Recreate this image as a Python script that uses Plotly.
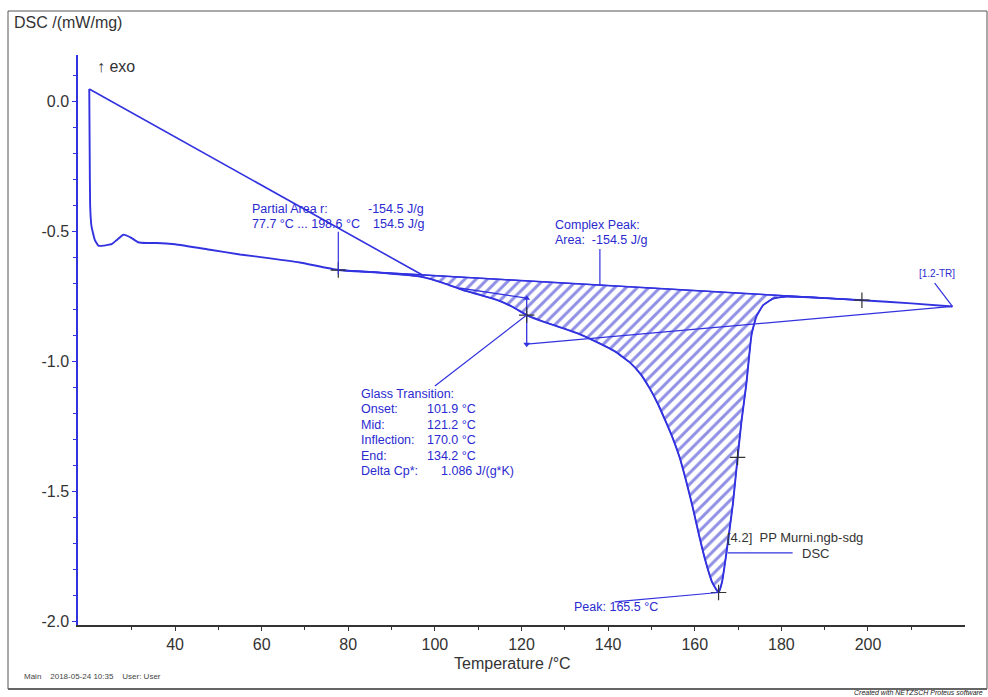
import plotly.graph_objects as go

# ---------------- data ----------------
temperature = [20.2, 20.3, 20.4, 20.7, 21.5, 22.3, 23.5, 24.8, 25.4, 26.5, 28.1, 29.8,
               31.5, 33.5, 35.8, 40.0, 48.1, 55.0, 62.0, 68.8, 77.7, 87.0, 97.2, 102.0,
               106.5, 110.5, 114.3, 118.0, 121.2, 125.0, 129.5, 133.5, 137.4, 141.5,
               145.0, 147.5, 149.6, 151.5, 153.5, 155.0, 156.5, 158.0, 159.5, 161.0,
               162.5, 164.0, 165.5, 166.3, 167.3, 168.8, 169.9, 170.8, 171.9, 173.1,
               174.2, 175.8, 178.1, 181.2, 190.0, 198.6, 210.0, 219.5]
dsc = [0.046, -0.20, -0.40, -0.48, -0.535, -0.556, -0.556, -0.552, -0.550, -0.535,
       -0.514, -0.525, -0.543, -0.546, -0.546, -0.551, -0.572, -0.590, -0.605, -0.621,
       -0.650, -0.660, -0.677, -0.700, -0.727, -0.746, -0.765, -0.792, -0.823, -0.848,
       -0.873, -0.897, -0.927, -0.962, -1.005, -1.050, -1.105, -1.165, -1.240, -1.300,
       -1.370, -1.460, -1.560, -1.670, -1.770, -1.850, -1.890, -1.850, -1.740, -1.550,
       -1.370, -1.230, -1.090, -0.900, -0.830, -0.785, -0.760, -0.752, -0.758, -0.766,
       -0.778, -0.790]

# straight jump segment of the recorded signal
jump_T = [20.2, 97.0]
jump_dsc = [0.046, -0.668]

# peak integration baseline (partial area limits)
baseline_T = [77.7, 198.6]
baseline_dsc = [-0.650, -0.766]

# glass transition construction
gt_tangent_T = [105.6, 121.2]
gt_tangent_dsc = [-0.719, -0.758]
gt_step_T = [121.2, 121.2]
gt_step_dsc = [-0.758, -0.935]
gt_ext_T = [121.2, 219.5]
gt_ext_dsc = [-0.935, -0.790]

# evaluation cross markers
marker_T = [77.7, 121.2, 165.5, 169.9, 198.6]
marker_dsc = [-0.650, -0.823, -1.890, -1.370, -0.766]

x_ticks = [40, 60, 80, 100, 120, 140, 160, 180, 200]
x_minor = [30, 50, 70, 90, 110, 130, 150, 170, 190, 210]
y_ticks = [0.0, -0.5, -1.0, -1.5, -2.0]
y_ticklabels = ["0.0", "-0.5", "-1.0", "-1.5", "-2.0"]

# ---------------- style ----------------
BLUE = "#3232e0"
TXT_BLUE = "#2a2ad0"
DARK = "#333333"
FONT = "Liberation Sans, Arial, sans-serif"

W, H = 988, 697
L, R, T, B = 78, 23, 55, 72
PW, PH = W - L - R, H - T - B


def px(x):
    return (x - L) / PW


def py(y):
    return (H - B - y) / PH


fig = go.Figure()

# hatched area between curve and baseline
lo, hi = baseline_T
poly_T = [t for t in temperature if lo <= t <= hi]
poly_d = [d for t, d in zip(temperature, dsc) if lo <= t <= hi]
poly_T += baseline_T[::-1]
poly_d += baseline_dsc[::-1]
fig.add_trace(go.Scatter(
    x=poly_T, y=poly_d, mode="lines", fill="toself",
    fillcolor="rgba(0,0,0,0)",
    fillpattern=dict(shape="/", fgcolor="#2020cc", bgcolor="white", size=8, solidity=0.38),
    line=dict(color=BLUE, width=1.2, shape="spline", smoothing=0.4),
    hoverinfo="skip", showlegend=False))

# baseline
fig.add_trace(go.Scatter(x=baseline_T, y=baseline_dsc, mode="lines",
                         line=dict(color=BLUE, width=1.5), showlegend=False))
# glass transition construction
fig.add_trace(go.Scatter(x=gt_tangent_T, y=gt_tangent_dsc, mode="lines",
                         line=dict(color=BLUE, width=1.3), showlegend=False))
fig.add_trace(go.Scatter(x=gt_ext_T, y=gt_ext_dsc, mode="lines",
                         line=dict(color=BLUE, width=1.3), showlegend=False))
fig.add_trace(go.Scatter(x=gt_step_T, y=gt_step_dsc, mode="lines+markers",
                         line=dict(color=BLUE, width=1.3),
                         marker=dict(symbol=["triangle-up", "triangle-down"], size=6, color=BLUE),
                         showlegend=False))

# main DSC curve
fig.add_trace(go.Scatter(x=jump_T, y=jump_dsc, mode="lines",
                         line=dict(color=BLUE, width=1.6), showlegend=False))
fig.add_trace(go.Scatter(x=temperature, y=dsc, mode="lines",
                         line=dict(color=BLUE, width=1.9, shape="spline", smoothing=0.4),
                         showlegend=False))

# cross markers
fig.add_trace(go.Scatter(x=marker_T, y=marker_dsc, mode="markers",
                         marker=dict(symbol="cross-thin", size=11,
                                     line=dict(color=DARK, width=1.2)),
                         showlegend=False))

# leader lines (data coordinates)
leaders = [
    ((77.7, -0.503), (77.7, -0.665)),      # partial area
    ((138.1, -0.569), (138.1, -0.708)),    # complex peak
    ((100.0, -1.096), (121.2, -0.823)),    # glass transition
    ((141.5, -1.926), (165.5, -1.890)),    # peak
    ((167.6, -1.738), (182.6, -1.738)),    # DSC curve label
    ((215.4, -0.700), (219.5, -0.790)),    # [1.2-TR]
]
for (x0, y0), (x1, y1) in leaders:
    fig.add_shape(type="line", xref="x", yref="y", x0=x0, y0=y0, x1=x1, y1=y1,
                  line=dict(color=BLUE, width=1.2))


def text(x, y, s, size=12.5, color=TXT_BLUE, anchor="left", italic=False):
    fig.add_annotation(x=px(x), y=py(y), xref="paper", yref="paper", text=s,
                       showarrow=False, xanchor=anchor, yanchor="middle",
                       font=dict(family=FONT, size=size, color=color,
                                 style="italic" if italic else "normal"))


# annotations
text(250, 209, "Partial Area r:")
text(426, 209, "-154.5 J/g", anchor="right")
text(250, 224, "77.7 °C ... 198.6 °C")
text(426, 224, "154.5 J/g", anchor="right")
text(553, 225, "Complex Peak:")
text(553, 240, "Area:  -154.5 J/g")

gt_labels = ["Glass Transition:", "Onset:", "Mid:", "Inflection:", "End:", "Delta Cp*:"]
gt_y = [394, 409, 425, 440, 456, 471]
for lab, yy in zip(gt_labels, gt_y):
    text(359, yy, lab)
for val, yy in zip(["101.9 °C", "121.2 °C", "170.0 °C", "134.2 °C"], gt_y[1:5]):
    text(425, yy, val)
text(439, gt_y[5], "1.086 J/(g*K)")

text(572, 607, "Peak: 165.5 °C")
text(725, 537, "[4.2]  PP Murni.ngb-sdg", size=13, color=DARK)
text(800, 553, "DSC", size=13, color=DARK)
text(917, 273, "[1.2-TR]", size=10)

text(12, 22, "DSC /(mW/mg)", size=16, color=DARK)
text(95, 67, "↑ exo", size=16, color=DARK)
text(512, 663, "Temperature /°C", size=16, color=DARK, anchor="center")
text(22, 676, "Main    2018-05-24 10:35    User: User", size=8, color="#444444")
text(985, 692, "Created with NETZSCH Proteus software", size=7, color="#222222",
     anchor="right", italic=True)

# outer frame
fig.add_shape(type="rect", xref="paper", yref="paper",
              x0=px(8), x1=px(987), y0=py(689), y1=py(11),
              line=dict(color="#555555", width=1))
fig.add_shape(type="line", xref="paper", yref="paper",
              x0=px(8), x1=px(987), y0=py(689), y1=py(689),
              line=dict(color="#666666", width=2))

fig.update_layout(
    width=W, height=H,
    margin=dict(l=L, r=R, t=T, b=B, pad=0),
    paper_bgcolor="white", plot_bgcolor="white",
    showlegend=False,
    font=dict(family=FONT, color=DARK),
    xaxis=dict(range=[17.6, 222.4], tickvals=x_ticks, ticks="outside", ticklen=4,
               tickcolor=DARK, showline=True, linecolor=DARK, linewidth=1.5,
               showgrid=False, zeroline=False, tickfont=dict(size=16, color=DARK),
               minor=dict(tickvals=x_minor, ticks="outside", ticklen=3, tickcolor=DARK)),
    yaxis=dict(range=[-2.015, 0.177], tickvals=y_ticks, ticktext=y_ticklabels,
               ticks="outside", ticklen=4, tickcolor=BLUE, showline=True,
               linecolor=BLUE, linewidth=1.5, showgrid=False, zeroline=False,
               tickfont=dict(size=16, color=DARK),
               minor=dict(dtick=0.1, ticks="outside", ticklen=3, tickcolor=BLUE)),
)

fig.write_html("out.html", config={"displayModeBar": False},
               post_script="document.body.style.margin='0';")
